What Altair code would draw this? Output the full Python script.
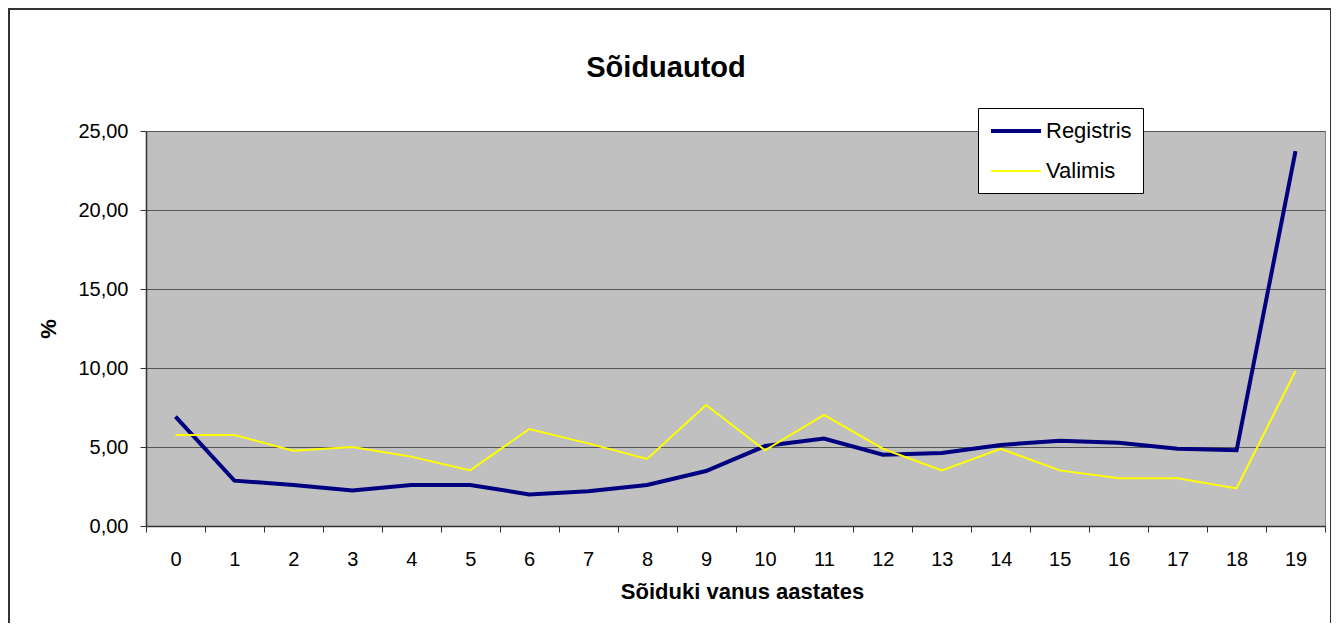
import altair as alt
import pandas as pd

ages = [str(i) for i in range(20)]
registris = [6.92, 2.87, 2.60, 2.24, 2.60, 2.60, 2.00, 2.20, 2.60, 3.48,
             5.06, 5.53, 4.51, 4.62, 5.13, 5.40, 5.27, 4.89, 4.79, 23.73]
valimis = [5.76, 5.76, 4.77, 5.00, 4.39, 3.52, 6.14, 5.23, 4.24, 7.66,
           4.79, 7.03, 4.89, 3.52, 4.89, 3.52, 3.02, 3.02, 2.38, 9.81]
series_names = ["Registris", "Valimis"]
series_colors = ["#000080", "#FFFF00"]
series_widths = [4, 2]
title_text = "Sõiduautod"
x_title = "Sõiduki vanus aastates"
y_title = "%"
y_ticks = [0, 5, 10, 15, 20, 25]

FONT = "Liberation Sans"

rows = []
for name, vals in zip(series_names, [registris, valimis]):
    for a, v in zip(ages, vals):
        rows.append({"age": a, "value": v, "series": name})
df = pd.DataFrame(rows)

W, H = 1179, 395

legend = alt.Legend(
    title=None, orient="none", legendX=832, legendY=-23,
    symbolType="M-1,0H4", symbolSize=400, labelFontSize=22, labelFont=FONT,
    labelColor="black", labelOffset=33, fillColor="white", strokeColor="black",
    padding=11, rowPadding=18,
)

lines = alt.Chart(df).mark_line(strokeJoin="miter").encode(
    x=alt.X("age:N", sort=ages,
            scale=alt.Scale(type="band", paddingInner=0, paddingOuter=0),
            axis=alt.Axis(title=x_title, titleFontSize=22, titleFontWeight="bold",
                          titleFont=FONT, titleColor="black", titleX=596, titleY=72,
                          titleBaseline="alphabetic",
                          labelAngle=0, labelFontSize=20, labelFont=FONT, labelColor="black",
                          labelPadding=33, labelBaseline="alphabetic",
                          tickBand="extent", tickSize=6, tickColor="#333",
                          domainColor="#333", domainWidth=1.5, grid=False)),
    y=alt.Y("value:Q", scale=alt.Scale(domain=[0, 25], nice=False),
            axis=alt.Axis(values=y_ticks, title=y_title,
                          labelExpr="replace(format(datum.value, '.2f'), '.', ',')",
                          labelFontSize=20, labelFont=FONT, labelColor="black",
                          labelPadding=12, tickSize=6, tickColor="#333",
                          domainColor="#333", domainWidth=1.5,
                          grid=True, gridColor="#555", gridWidth=1,
                          titleFontSize=22, titleFontWeight="bold", titleFont=FONT,
                          titleColor="black", titleAngle=270, titleX=-97.5, titleY=197.5,
                          titleBaseline="middle", titleAlign="center")),
    color=alt.Color("series:N", scale=alt.Scale(domain=series_names, range=series_colors),
                    legend=legend),
    strokeWidth=alt.StrokeWidth("series:N",
                                scale=alt.Scale(domain=series_names, range=series_widths),
                                legend=legend),
    order=alt.Order("age_i:Q"),
).transform_calculate(age_i="toNumber(datum.age)")

border = alt.Chart(pd.DataFrame({"b": [1]})).mark_rect(
    filled=False, stroke="#333", strokeWidth=2
).encode(x=alt.value(-137), x2=alt.value(W + 6), y=alt.value(-122), y2=alt.value(H + 200))

title = alt.Chart(pd.DataFrame({"t": [title_text]})).mark_text(
    fontSize=29, fontWeight="bold", font=FONT, align="center", baseline="alphabetic",
    color="black"
).encode(text="t:N", x=alt.value(520), y=alt.value(-54))

chart = alt.layer(border, title, lines).properties(
    width=W, height=H,
    autosize=alt.AutoSizeParams(type="none"),
    padding={"left": 138, "top": 123, "right": 6, "bottom": 97},
    background="white",
).configure_view(fill="#C0C0C0", stroke="#808080", strokeWidth=1)

chart.save("out.html", embed_options={"renderer": "svg", "actions": False})
